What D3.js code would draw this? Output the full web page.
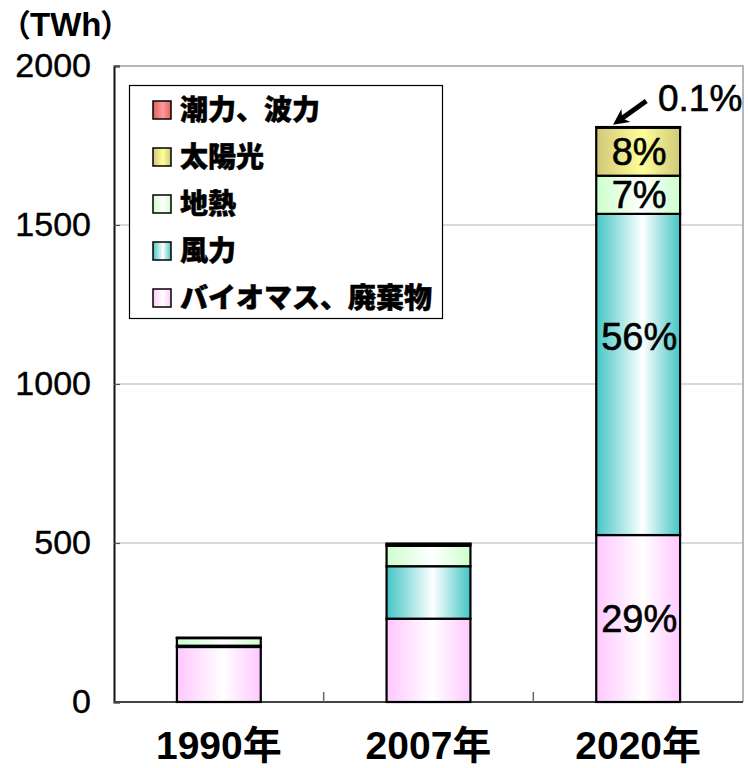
<!DOCTYPE html>
<html>
<head>
<meta charset="utf-8">
<script src="https://cdn.jsdelivr.net/npm/d3@7"></script>
<style>
  html, body { margin: 0; padding: 0; background: #fff; }
  svg { display: block; }
</style>
</head>
<body>
<svg id="chart" width="748" height="768"></svg>
<script>
// ---- data (TWh) ----
const years = ["1990年", "2007年", "2020年"];
const seriesNames = ["バイオマス、廃棄物", "風力", "地熱", "太陽光", "潮力、波力"];
const biomass    = [173, 262, 525];
const wind       = [4, 165, 1010];
const geothermal = [24, 64, 120];
const solar      = [0.5, 6, 151];
const tidal      = [0.6, 1, 2];
const yTicks = [0, 500, 1000, 1500, 2000];
const shareLabels2020 = ["29%", "56%", "7%", "8%"];
const tidalShare2020 = "0.1%";

const seriesValues = [biomass, wind, geothermal, solar, tidal];
const keys = ["biomass", "wind", "geo", "solar", "tidal"];
const edgeColors   = ["#FFC8FF", "#44C6C6", "#CCFFCC", "#D0C878", "#E06060"];
const centerColors = ["#FFFFFF", "#FFFFFF", "#FFFFFF", "#FFFF99", "#FF9A9A"];

const rows = years.map((y, i) => {
  const r = { year: y };
  keys.forEach((k, j) => r[k] = seriesValues[j][i]);
  return r;
});

const svg = d3.select("#chart");
const plot = { left: 114, right: 743, top: 66, bottom: 702 };

const x = d3.scaleBand().domain(years).range([plot.left, plot.right])
  .paddingInner(0.6).paddingOuter(0.3);
const y = d3.scaleLinear().domain([0, 2000]).range([plot.bottom, plot.top]);

// gradients
const defs = svg.append("defs");
keys.forEach((k, j) => {
  const g = defs.append("linearGradient").attr("id", "g-" + k)
    .attr("x1", "0%").attr("x2", "100%").attr("y1", "0%").attr("y2", "0%");
  g.append("stop").attr("offset", "0%").attr("stop-color", edgeColors[j]);
  g.append("stop").attr("offset", "55%").attr("stop-color", centerColors[j]);
  g.append("stop").attr("offset", "100%").attr("stop-color", edgeColors[j]);
});

// gridlines
svg.append("g").selectAll("line").data(yTicks.filter(t => t > 0 && t < 2000)).join("line")
  .attr("x1", plot.left).attr("x2", plot.right)
  .attr("y1", d => y(d)).attr("y2", d => y(d))
  .attr("stroke", "#b4b4b4").attr("stroke-width", 1.2);

// frame top & right
svg.append("path")
  .attr("d", `M${plot.left},${plot.top}H${plot.right}V${plot.bottom}`)
  .attr("fill", "none").attr("stroke", "#a0a0a0").attr("stroke-width", 1.5);

// y axis
const yAxis = d3.axisLeft(y).tickValues(yTicks).tickFormat(d3.format("d")).tickSize(-6).tickPadding(24);
const gy = svg.append("g").attr("transform", `translate(${plot.left},0)`).call(yAxis);
gy.select(".domain").attr("stroke", "#111").attr("stroke-width", 2);
gy.selectAll(".tick line").attr("stroke", "#555").attr("stroke-width", 1.2);
gy.selectAll(".tick text")
  .attr("font-family", "'Liberation Sans', Arial, sans-serif")
  .attr("font-size", 34).attr("fill", "#000").attr("x", -23)
  .attr("stroke", "#000").attr("stroke-width", 0.4);

// x axis baseline + ticks between categories
svg.append("line").attr("x1", plot.left).attr("x2", plot.right)
  .attr("y1", plot.bottom).attr("y2", plot.bottom)
  .attr("stroke", "#444").attr("stroke-width", 2);
const step = x.step();
svg.append("g").selectAll("line").data(years.slice(1)).join("line")
  .attr("x1", d => x(d) - step * 0.3).attr("x2", d => x(d) - step * 0.3)
  .attr("y1", plot.bottom).attr("y2", plot.bottom - 10)
  .attr("stroke", "#666").attr("stroke-width", 1.5);

// x labels
svg.append("g").selectAll("text").data(years).join("text")
  .attr("x", d => x(d) + x.bandwidth() / 2).attr("y", 759)
  .attr("text-anchor", "middle")
  .attr("font-family", "'Liberation Sans', 'Noto Sans CJK JP', sans-serif")
  .attr("font-weight", "bold").attr("font-size", 39)
  .text(d => d);

// stacked bars
const stack = d3.stack().keys(keys)(rows);
svg.append("g").selectAll("g").data(stack).join("g")
  .attr("fill", d => `url(#g-${d.key})`)
  .selectAll("rect").data(d => d).join("rect")
  .attr("x", d => x(d.data.year))
  .attr("width", x.bandwidth())
  .attr("y", d => y(d[1]))
  .attr("height", d => y(d[0]) - y(d[1]))
  .attr("stroke", "#000").attr("stroke-width", 2.2);

// percent labels on 2020 bar
const last = years.length - 1;
const labelFrac = [0.5, 0.62, 0.5, 0.5];
const pctFont = "'Liberation Sans', Arial, sans-serif";
svg.append("g").selectAll("text").data(shareLabels2020).join("text")
  .attr("x", x(years[last]) + x.bandwidth() / 2 + 1)
  .attr("y", (d, i) => {
    const seg = stack[i][last];
    return y(seg[0] + (seg[1] - seg[0]) * labelFrac[i]);
  })
  .attr("dy", "0.36em")
  .attr("text-anchor", "middle")
  .attr("font-family", pctFont).attr("font-size", 38).attr("fill", "#000")
  .attr("stroke", "#000").attr("stroke-width", 0.6)
  .text(d => d);

// 0.1% label with arrow
const topVal = stack[keys.length - 1][last][1];
const tipX = x(years[last]) + 18, tipY = y(topVal) - 2;
defs.append("marker").attr("id", "arrowhead")
  .attr("viewBox", "0 0 10 10").attr("refX", 6).attr("refY", 5)
  .attr("markerWidth", 3.2).attr("markerHeight", 3.2).attr("orient", "auto")
  .append("path").attr("d", "M0,0L10,5L0,10L3,5Z").attr("fill", "#000");
svg.append("line")
  .attr("x1", tipX + 32).attr("y1", tipY - 24)
  .attr("x2", tipX + 4).attr("y2", tipY - 4)
  .attr("stroke", "#000").attr("stroke-width", 5)
  .attr("marker-end", "url(#arrowhead)");
svg.append("text")
  .attr("x", 658).attr("y", 111)
  .attr("font-family", pctFont).attr("font-size", 37).attr("fill", "#000")
  .attr("stroke", "#000").attr("stroke-width", 0.6)
  .text(tidalShare2020);

// unit label
const unit = svg.append("text").attr("y", 36).attr("font-weight", "bold");
unit.append("tspan").attr("x", 0)
  .attr("font-family", "'Noto Sans CJK JP', sans-serif").attr("font-size", 31)
  .text("（");
unit.append("tspan").attr("x", 30)
  .attr("font-family", "'Liberation Sans', Arial, sans-serif").attr("font-size", 33)
  .text("TWh");
unit.append("tspan").attr("x", 100)
  .attr("font-family", "'Noto Sans CJK JP', sans-serif").attr("font-size", 31)
  .text("）");

// legend
const lg = svg.append("g");
lg.append("rect").attr("x", 129.5).attr("y", 85.5).attr("width", 313).attr("height", 233)
  .attr("fill", "#fff").attr("stroke", "#000").attr("stroke-width", 1.2);
const legendOrder = [4, 3, 2, 1, 0];
const items = lg.selectAll("g.item").data(legendOrder).join("g")
  .attr("transform", (d, i) => `translate(153, ${110 + i * 47})`);
items.append("rect").attr("x", 0).attr("y", -9).attr("width", 18).attr("height", 18)
  .attr("fill", d => `url(#g-${keys[d]})`)
  .attr("stroke", "#000").attr("stroke-width", 1.5);
items.append("text").attr("x", 27).attr("y", 0).attr("dy", "0.36em")
  .attr("font-family", "'Noto Sans CJK JP', sans-serif")
  .attr("font-weight", "900").attr("font-size", 28)
  .attr("stroke", "#000").attr("stroke-width", 0.5)
  .text(d => seriesNames[d]);
</script>
</body>
</html>
